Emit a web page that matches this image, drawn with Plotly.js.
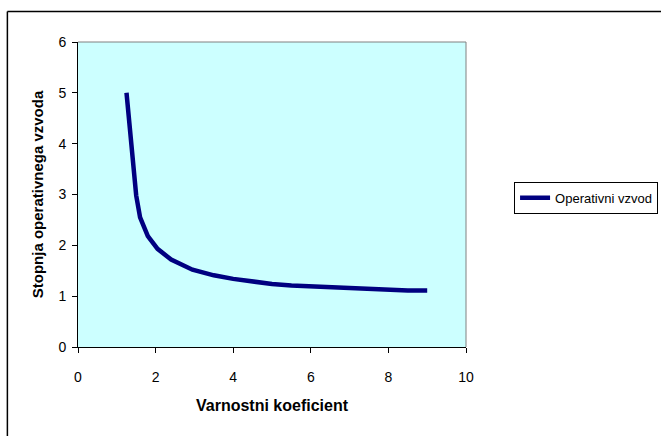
<!DOCTYPE html>
<html>
<head>
<meta charset="utf-8">
<script src="https://cdn.plot.ly/plotly-3.0.1.min.js"></script>
<style>
  html, body { margin: 0; padding: 0; background: #ffffff; overflow: hidden; }
  #chart { width: 661px; height: 436px; }
</style>
</head>
<body>
<div id="chart"></div>
<script>
// Data
const seriesName = "Operativni vzvod";
const safetyCoefficient = [1.25, 1.5, 1.6, 1.8, 2.05, 2.4, 2.95, 3.5, 4.0, 4.5, 5.0, 5.5, 6.0, 7.0, 8.0, 8.5, 9.0];
const leverageDegree   = [5.0, 2.98, 2.55, 2.18, 1.93, 1.72, 1.52, 1.41, 1.34, 1.28, 1.24, 1.21, 1.19, 1.17, 1.13, 1.11, 1.11];
const xTicks = [0, 2, 4, 6, 8, 10];
const yTicks = [0, 1, 2, 3, 4, 5, 6];
const xTitle = "Varnostni koeficient";
const yTitle = "Stopnja operativnega vzvoda";

const font = "Liberation Sans, Arial, sans-serif";

const trace = {
  x: safetyCoefficient,
  y: leverageDegree,
  type: "scatter",
  mode: "lines",
  name: seriesName,
  line: { color: "#000080", width: 4.5 },
  showlegend: true
};

const layout = {
  width: 661,
  height: 436,
  margin: { l: 78, r: 195, t: 42, b: 89, autoexpand: false },
  paper_bgcolor: "#ffffff",
  plot_bgcolor: "#CCFFFF",
  font: { family: font, size: 14, color: "#000000" },
  showlegend: true,
  xaxis: {
    range: [0, 10],
    tickvals: xTicks,
    ticktext: xTicks.map(String),
    showgrid: false,
    zeroline: false,
    showline: true,
    linecolor: "#000000",
    linewidth: 1,
    ticks: "outside",
    ticklen: 5,
    tickcolor: "#000000",
    ticklabelstandoff: 12,
    tickfont: { family: font, size: 14 },
    title: { text: "<b>" + xTitle + "</b>", font: { family: font, size: 16 }, standoff: 16 },
    automargin: false,
    fixedrange: true
  },
  yaxis: {
    range: [0, 6],
    tickvals: yTicks,
    ticktext: yTicks.map(String),
    showgrid: false,
    zeroline: false,
    showline: true,
    linecolor: "#000000",
    linewidth: 1,
    ticks: "outside",
    ticklen: 5,
    tickcolor: "#000000",
    ticklabelstandoff: 3,
    tickfont: { family: font, size: 14 },
    title: { text: "<b>" + yTitle + "</b>", font: { family: font, size: 15 }, standoff: 11 },
    automargin: false,
    fixedrange: true
  },
  legend: {
    x: 1.495,
    xanchor: "right",
    y: 0.489,
    yanchor: "middle",
    bgcolor: "#ffffff",
    bordercolor: "#000000",
    borderwidth: 1,
    font: { family: font, size: 13 },
    tracegroupgap: 0
  },
  shapes: [
    // plot area top/right border (grey)
    { type: "line", xref: "paper", yref: "paper", x0: 0, x1: 1, y0: 1, y1: 1, line: { color: "#808080", width: 1 } },
    { type: "line", xref: "paper", yref: "paper", x0: 1, x1: 1, y0: 0, y1: 1, line: { color: "#808080", width: 1 } },
    // chart frame (left and top visible)
    { type: "line", xref: "paper", yref: "paper", x0: -0.182, x1: -0.182, y0: -0.4, y1: 1.1, line: { color: "#000000", width: 1.5 } },
    { type: "line", xref: "paper", yref: "paper", x0: -0.182, x1: 1.6, y0: 1.1, y1: 1.1, line: { color: "#000000", width: 1.5 } }
  ]
};

Plotly.newPlot("chart", [trace], layout, { displayModeBar: false, staticPlot: true });
</script>
</body>
</html>
